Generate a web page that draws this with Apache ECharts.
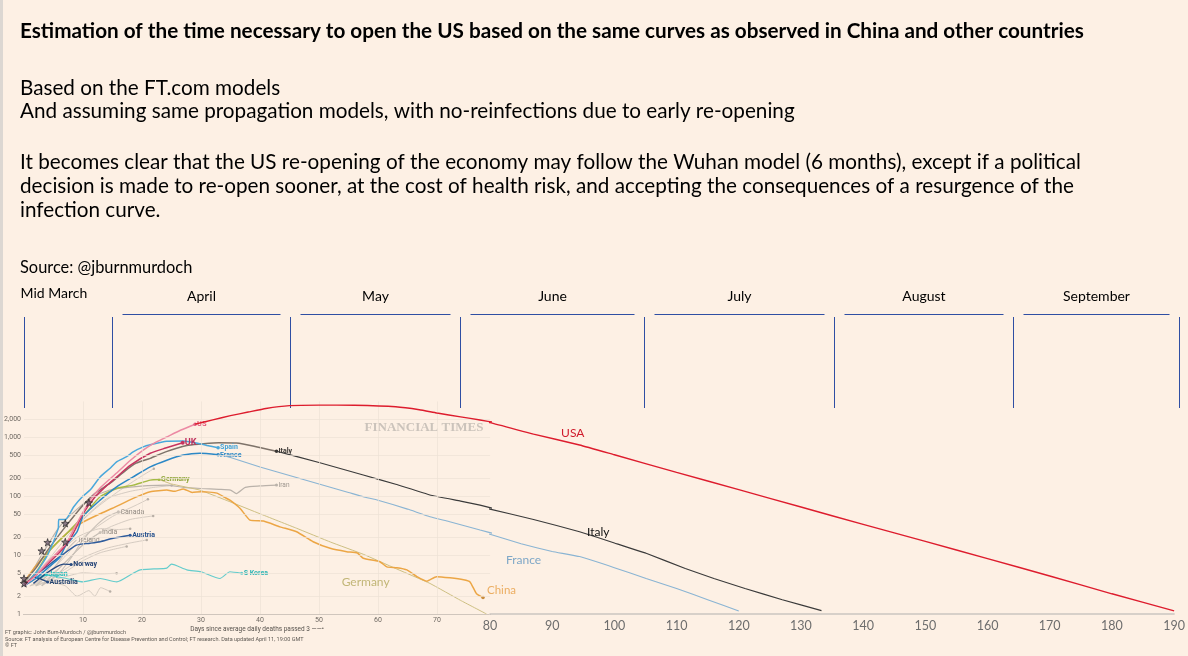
<!DOCTYPE html>
<html>
<head>
<meta charset="utf-8">
<title>US re-opening estimation</title>
<script src="https://cdn.jsdelivr.net/npm/echarts@6/dist/echarts.min.js"></script>
<style>
  html, body { margin: 0; padding: 0; background: #fdf0e4; }
  #chart { width: 1188px; height: 656px; }
</style>
</head>
<body>
<div id="chart"></div>
<script>
// ---- text ----
const introLines = [
  'Estimation of the time necessary to open the US based on the same curves as observed in China and other countries',
  'Based on the FT.com models',
  'And assuming same propagation models, with no-reinfections due to early re-opening',
  'It becomes clear that the US re-opening of the economy may follow the Wuhan model (6 months), except if a political',
  'decision is made to re-open sooner, at the cost of health risk, and accepting the consequences of a resurgence of the',
  'infection curve.',
  'Source: @jburnmurdoch'
]
const footerLines = [
  'FT graphic: John Burn-Murdoch / @jburnmurdoch',
  'Source: FT analysis of European Centre for Disease Prevention and Control; FT research. Data updated April 11, 19:00 GMT',
  '© FT'
]

// ---- axes ----
const yTicks = [1, 2, 5, 10, 20, 50, 100, 200, 500, 1000, 2000]
const ftDayTicks = [10, 20, 30, 40, 50, 60, 70]
const monthNames = ['Mid March', 'April', 'May', 'June', 'July', 'August', 'September']
const monthStartDays = [0, 14.9, 45.1, 73.9, 104.8, 135.3, 164.1, 190.8]

// ---- FT curves [day, daily deaths] ----
const usFT = [[0,3],[2,4.5],[4,7.5],[6,12],[7.2,16],[9,35],[11.2,85],[13,140],[15.7,245],[18,400],[20.2,600],[22,780],[24.2,1000],[26.5,1300],[29,1650]]
const ukFT = [[0,3.2],[2,4.5],[4,7],[6,11],[8,20],[10,50],[12,95],[14,150],[15.7,210],[18,330],[21.4,530],[24,650],[26.9,800]]
const spainFT = [[0,3],[2,5],[4,10],[5.8,28],[5.9,40],[7,40],[8.4,65],[10,100],[11.2,126],[12.9,210],[14.6,296],[15.7,380],[17.4,464],[18.5,560],[20.2,680],[21.4,740],[24.2,850],[27,860],[29,800],[31,720],[32.9,660]]
const italyFT = [[0,3.5],[2,6],[4,12],[7,30],[10,70],[12,110],[14.6,165],[17,260],[19,360],[21.4,435],[24,560],[27.6,720],[30,760],[33,800],[36,790],[39,700],[42.8,575]]
const franceFT = [[0,3],[2,4],[4,6],[6,9],[7,14],[9,25],[10,45],[12.9,85],[15.7,143],[18.5,211],[21.4,312],[24.2,405],[27,495],[29.8,530],[32.9,500]]
const germanyFT = [[0,3],[2,5],[4.4,12],[7.2,23],[10,45],[12.9,97],[15.7,134],[18.5,153],[21.4,186],[22.9,190]]
const chinaFT = [[0,3.5],[2,6.5],[4,11],[7.2,23],[10,36],[12.9,50],[15,62],[18.5,91],[21.4,118],[24.2,126],[25.5,120],[27,132],[28.5,115],[30,118],[32.7,112],[34,95],[34.9,85],[36.6,62],[38.3,39],[40.6,37.7],[43.4,30],[46.2,24.8],[49,16.8],[51.9,13],[54.7,11.4],[56.5,10.8],[57.5,8.8],[60.3,7.7],[61.5,6.3],[63.2,6.1],[64.9,5.6],[66.6,4.3],[68.3,3.6],[69.9,4.3],[72.2,4.1],[74.5,3.8],[75.6,3.5],[76.7,2.2],[77.8,1.9]]
const iranFT = [[0,3],[3,10],[6,30],[9,60],[12,100],[15,130],[18.5,143],[21,150],[24.2,153],[27,140],[30,134],[33,130],[35,126],[36,110],[37.5,140],[40,148],[42.8,153]]
const canadaFT = [[3,3],[6,5],[8,9],[10,18],[12,30],[14,44],[16,54]]
const irelandFT = [[2,3],[4,4.5],[6,8],[7.5,13],[8.9,18]]
const indiaFT = [[3,3],[6,6],[9,12],[11,18],[12.9,24]]
const austriaFT = [[1.6,4.3],[3.8,6.3],[6.1,9.4],[8.9,14.7],[11.2,15.8],[12.9,16.8],[15.1,19.2],[18,21.6]]
const norwayFT = [[1.6,3.3],[3.8,4.9],[5.5,6.3],[6.7,7],[8,6.9]]
const japanFT = [[1.6,4.3],[2.5,4.0],[3.8,4.7]]
const australiaFT = [[1.6,4.3],[2.6,4.0],[4,3.5]]
const skoreaFT = [[1.6,4.3],[4,4.5],[7.2,4],[10,3.5],[12.9,4],[15.7,3.5],[18.5,4.9],[19.7,5.6],[22,5.8],[24.2,6],[25,7],[27.6,5.6],[30,5.2],[33.2,4],[34.9,5.2],[36.9,4.9]]
const otherCountries = [
  [[0,3],[4,8],[8,25],[12,60],[16,120],[20,220],[22,290]],
  [[0,3],[5,6],[10,20],[15,45],[19,70],[21,88]],
  [[1,3],[6,6],[10,15],[14,28],[18,40],[21.9,46]],
  [[1,3],[6,5],[10,9],[14,13],[18,16],[20.8,18]],
  [[2,3],[6,4.5],[10,8],[13,11],[17.4,14]],
  [[1,3],[4,3.5],[7,3],[9,2],[11,2.5],[12,2],[13,2.8],[14.6,2.4]],
  [[2,3],[6,4],[10,5],[13,4.8],[15.7,4.9]],
  [[2,3],[6,10],[10,40],[14,90],[18,120],[22,140],[25,150]],
  [[0,3],[5,9],[9,20],[13,28],[16,27],[18,28]]
]
const lockdownStars = [[0,3.3],[0,4.0],[3,11.8],[4,16.4],[7,34.5],[7,16.6],[11,77]]

// ---- hand-drawn projections ----
const usProj = [[29,1650],[32,1950],[35,2300],[38,2650],[41,3050],[45,3400],[50,3470],[56,3450],[63,3250],[67,2900],[70,2550],[74,2200],[77.3,1940],[80,1750],[87,1120],[94.4,732],[100,500],[110,252],[120,128],[130,65],[140,33],[150,17],[160,8.7],[170,4.4],[180,2.2],[190,1.13]]
const italyProj = [[42.8,575],[50,370],[57.5,227],[63,158],[68.8,104],[74,82],[77.3,70],[80,60],[87,40],[94.4,24.8],[100,16],[105.1,10.7],[111.4,5.9],[116,4],[121,2.7],[127,1.75],[133.3,1.14]]
const franceProj = [[32.9,500],[35,450],[40,311],[45,223],[50,160],[55,115],[57.5,97],[60,85],[65,60],[68.8,44.6],[72,37],[77.3,26.5],[80,22.5],[85,15.5],[90,11.5],[94.4,9.4],[100,6.1],[105.1,4.0],[110,2.7],[115,1.75],[120,1.12]]
const germanyProj = [[22.9,190],[25,160],[29.8,126],[34.9,80],[40,50],[46.2,28.4],[52,16.5],[57.5,10.3],[63,5.9],[68.8,3.3],[74,1.7],[78.4,1.0]]

const STAR = 'path://M50,0 L61,35 L98,35 L68,57 L79,91 L50,70 L21,91 L32,57 L2,35 L39,35 Z'
const LEFT_MAX = 79

// a curve may cross from the FT grid (0-79) into the extension grid (80-190)
function splitAt(pts) {
  let i = pts.findIndex(p => p[0] > LEFT_MAX)
  if (i < 0) return [pts, null]
  let j = pts.findIndex(p => p[0] >= 80)
  return [pts.slice(0, i + 1), pts.slice(Math.max(j - 1, 0))]
}

function curve(name, pts, color, o) {
  o = o || {}
  let parts = splitAt(pts)
  let out = []
  let lastPart = parts[1] ? 1 : 0
  parts.forEach(function (part, k) {
    if (!part) return
    let n = part.length
    let isEnd = k === lastPart
    let s = {
      name: name,
      type: 'line',
      xAxisIndex: k,
      yAxisIndex: k,
      data: part,
      smooth: o.smooth == null ? 0.2 : o.smooth,
      symbol: 'circle',
      showSymbol: true,
      showAllSymbol: true,
      symbolSize: function (v, p) {
        return (o.dot && isEnd && p.dataIndex === n - 1) ? (o.dotSize || 3.5) : 0
      },
      itemStyle: {color: o.dotColor || color},
      lineStyle: {color: color, width: o.width || 1.5},
      z: o.z || 3,
      silent: true
    }
    if (o.label && isEnd) {
      s.endLabel = {
        show: true,
        formatter: o.label,
        color: o.labelColor || color,
        fontSize: o.labelSize || 7,
        fontWeight: o.labelWeight || 'bold',
        fontFamily: o.labelFont || 'Roboto',
        distance: o.labelDistance == null ? 2 : o.labelDistance,
        offset: o.labelOffset || [0, 0]
      }
    }
    if (o.tag && (o.tag.day <= LEFT_MAX ? 0 : 1) === k) {
      s.markPoint = {
        silent: true,
        symbol: 'circle',
        symbolSize: 1,
        itemStyle: {color: 'rgba(0,0,0,0)'},
        label: {show: true, position: 'inside', formatter: o.tag.text, color: o.tag.color,
          fontSize: 12, fontFamily: 'Lato'},
        data: [{coord: [o.tag.day, o.tag.value]}]
      }
    }
    out.push(s)
  })
  return out
}

let series = []

// FT gridlines and y labels
series.push({
  type: 'line', xAxisIndex: 0, yAxisIndex: 0, data: [], silent: true, z: 1,
  markLine: {
    silent: true,
    symbol: ['none', 'none'],
    lineStyle: {color: '#ece1d5', width: 0.7, type: 'solid'},
    label: {show: true, position: 'start', distance: 3, fontSize: 7, color: '#6f6963', fontFamily: 'Roboto',
      formatter: p => Number(p.value).toLocaleString('en-US')},
    emphasis: {disabled: true},
    data: yTicks.map(v => ({yAxis: v})).concat(ftDayTicks.map(d => ({xAxis: d, label: {show: false}})))
  }
})

otherCountries.forEach(function (pts, i) {
  series.push(...curve('other' + i, pts, '#d6ccc2', {width: 1, z: 2, dot: true, dotSize: 2.5, dotColor: '#b8afa6'}))
})
series.push(...curve('Iran', iranFT, '#bab2aa', {width: 1.2, z: 2, dot: true, dotSize: 3, label: 'Iran', labelColor: '#9b948d', labelWeight: 'normal', labelSize: 6.5}))
series.push(...curve('Canada', canadaFT, '#c9c0b7', {width: 1.1, z: 2, dot: true, dotSize: 3, label: 'Canada', labelColor: '#8f8880', labelWeight: 'normal'}))
series.push(...curve('Ireland', irelandFT, '#c9c0b7', {width: 1.1, z: 2, label: 'Ireland', labelColor: '#9a928a', labelWeight: 'normal'}))
series.push(...curve('India', indiaFT, '#c9c0b7', {width: 1.1, z: 2, dot: true, dotSize: 3, label: 'India', labelColor: '#8f8880', labelWeight: 'normal'}))

series.push(...curve('Germany projection', germanyProj, '#cdbf82', {width: 1, z: 3, smooth: 0.1,
  tag: {text: 'Germany', day: 57.9, value: 3.5, color: '#c2b677'}}))
series.push(...curve('China', chinaFT, '#eca645', {width: 1.5, z: 3, smooth: 0.15, dot: true, dotColor: '#c98c3e',
  label: 'China', labelColor: '#ecae62', labelSize: 11.5, labelFont: 'Lato', labelWeight: 'normal', labelDistance: 4, labelOffset: [0, -7]}))
series.push(...curve('S Korea', skoreaFT, '#64cccc', {width: 1.2, dot: true, dotSize: 3, label: 'S Korea', labelColor: '#2db5b5'}))
series.push(...curve('Japan', japanFT, '#2cc3c3', {width: 1.3, dot: true, dotSize: 3, label: 'Japan', labelColor: '#25bcbc'}))
series.push(...curve('Australia', australiaFT, '#294a7e', {width: 1.3, dot: true, dotSize: 3, label: 'Australia', labelColor: '#22426f'}))
series.push(...curve('Norway', norwayFT, '#274a80', {width: 1.4, dot: true, dotSize: 3, label: 'Norway', labelColor: '#1f3f74'}))
series.push(...curve('Austria', austriaFT, '#2f5c9c', {width: 1.4, dot: true, dotSize: 3, label: 'Austria', labelColor: '#244f8c'}))
series.push(...curve('Germany', germanyFT, '#a5ba45', {dot: true, dotSize: 3, label: 'Germany', labelColor: '#8ea536'}))
series.push(...curve('France projection', franceProj, '#8ab4d3', {width: 1.1, z: 4, smooth: 0.1,
  tag: {text: 'France', day: 85.4, value: 8.2, color: '#7ea7c7'}}))
series.push(...curve('Italy projection', italyProj, '#3a3a3a', {width: 1.1, z: 4, smooth: 0.1,
  tag: {text: 'Italy', day: 97.4, value: 24.6, color: '#111111'}}))
series.push(...curve('France', franceFT, '#2c88c6', {dot: true, dotSize: 3.5, label: 'France', labelColor: '#2c88c6'}))
series.push(...curve('Italy', italyFT, '#7e736a', {dot: true, dotSize: 3.5, dotColor: '#3a3734', label: 'Italy', labelColor: '#3a3734'}))
series.push(...curve('Spain', spainFT, '#4aa8dc', {dot: true, dotSize: 3.5, label: 'Spain', labelColor: '#3fa2d8'}))
series.push(...curve('UK', ukFT, '#c6335f', {dot: true, dotSize: 4, label: 'UK', labelColor: '#c0305b', labelSize: 9}))
series.push(...curve('US', usFT, '#ec8aa4', {dot: true, dotSize: 3.5, dotColor: '#e0607f', label: 'US', labelColor: '#e4587b', labelSize: 7.5}))
series.push(...curve('USA projection', usProj, '#dd1c2d', {width: 1.4, z: 5, smooth: 0.15,
  tag: {text: 'USA', day: 93.3, value: 1170, color: '#d01a2b'}}))

series.push({
  type: 'scatter', xAxisIndex: 0, yAxisIndex: 0, silent: true, z: 6,
  symbol: STAR, symbolSize: 7.5,
  itemStyle: {color: '#6e5d6e', borderColor: '#1e1e1e', borderWidth: 0.8},
  data: lockdownStars
})

let myChart = echarts.init(document.getElementById('chart'))
let option = {
  backgroundColor: '#fdf0e4',
  animation: false,
  grid: [
    {left: 24, top: 401.5, width: 466.1, height: 212.5},
    {left: 490, top: 401.5, width: 688, height: 212.5}
  ],
  xAxis: [
    {
      gridIndex: 0, type: 'value', min: 0, max: LEFT_MAX, interval: 10,
      name: 'Days since average daily deaths passed 3 ——•', nameLocation: 'middle', nameGap: 12,
      nameTextStyle: {fontSize: 6.5, color: '#57524d', fontFamily: 'Roboto'},
      axisLine: {lineStyle: {color: '#8e8984', width: 1}},
      axisTick: {show: false},
      splitLine: {show: false},
      axisLabel: {fontSize: 7, color: '#6f6963', margin: 3, fontFamily: 'Roboto',
        formatter: v => (v > 0 && v % 10 === 0) ? String(v) : ''}
    },
    {
      gridIndex: 1, type: 'value', min: 80, max: 190, interval: 10,
      axisLine: {lineStyle: {color: '#cac5c0', width: 1.5}},
      axisTick: {show: false},
      splitLine: {show: false},
      axisLabel: {fontSize: 12.5, color: '#6d6d6d', margin: 5, fontFamily: 'Lato'}
    }
  ],
  yAxis: [
    {gridIndex: 0, type: 'log', min: 1, max: 4000, show: false},
    {gridIndex: 1, type: 'log', min: 1, max: 4000, show: false}
  ],
  series: series
}
myChart.setOption(option)

// ---- slide text and month brackets (x from the chart's own day scale) ----
function dayToX(d) {
  return Math.round(myChart.convertToPixel({xAxisIndex: d <= LEFT_MAX ? 0 : 1}, d)) + 0.5
}
function txt(s, x, y, font, fill, align) {
  return {
    type: 'text', x: x, y: y, silent: true,
    style: {text: s, font: font, fill: fill || '#000',
      textAlign: align || 'left', align: align || 'left',
      textVerticalAlign: 'middle', verticalAlign: 'middle'}
  }
}

let g = []
g.push({type: 'rect', shape: {x: 0, y: 0, width: 3, height: 656}, style: {fill: '#dcd7d2'}, silent: true})
g.push(txt(introLines[0], 20, 31, 'bold 20.7px Lato'))
let rowY = [88, 111, 162, 186, 210]
for (let i = 1; i <= 5; i++) g.push(txt(introLines[i], 20, rowY[i - 1], '20.7px Lato'))
g.push(txt(introLines[6], 20, 268, '16.4px Lato'))

g.push(txt('FINANCIAL TIMES', 424, 428, 'bold 13px "Liberation Serif"', '#cbc3bb', 'center'))
footerLines.forEach(function (s, i) {
  g.push(txt(s, 5, 633 + i * 6.3, '5.5px Roboto', '#5d5853'))
})

let edges = monthStartDays.map(dayToX)
edges.forEach(function (x) {
  g.push({type: 'line', silent: true, shape: {x1: x, y1: 317, x2: x, y2: 408},
    style: {stroke: '#2f4ea3', lineWidth: 1}})
})
g.push(txt(monthNames[0], edges[0] - 4, 293, '14px Lato'))
for (let i = 1; i < monthNames.length; i++) {
  let a = edges[i] + 10, b = edges[i + 1] - 10
  g.push({type: 'line', silent: true, shape: {x1: a, y1: 314.5, x2: b, y2: 314.5},
    style: {stroke: '#2f4ea3', lineWidth: 1}})
  g.push(txt(monthNames[i], (a + b) / 2, 296, '14px Lato', '#000', 'center'))
}

myChart.setOption({graphic: {elements: g}})
</script>
</body>
</html>
